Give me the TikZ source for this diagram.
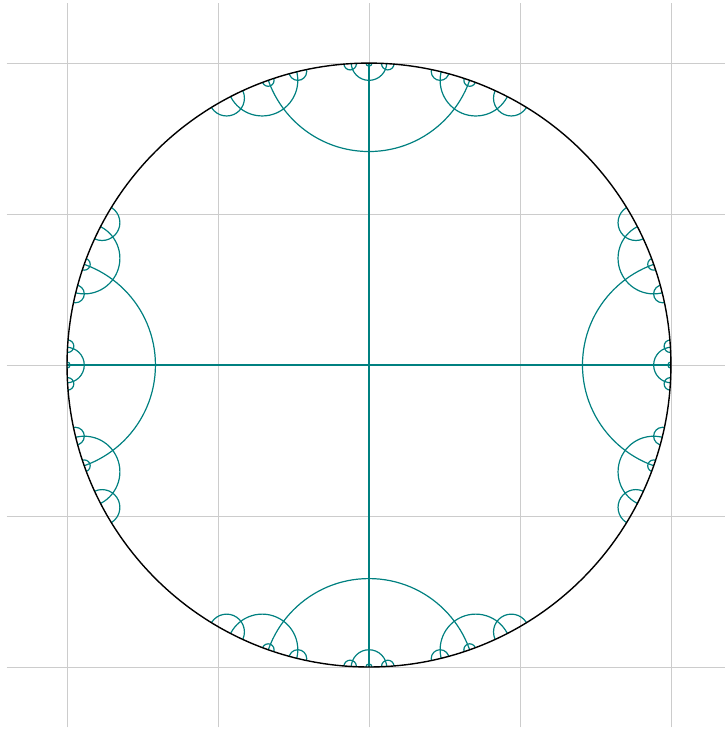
\documentclass[tikz,border=0pt]{standalone}
\usepackage{tikz}

% geodesic between two ideal points given by their angles
\newcommand{\geod}[2]{%
  \pgfmathsetmacro\gd{nrm(#2-#1)/2}%
  \pgfmathsetmacro\gm{#1+\gd}%
  \pgfmathsetmacro\gh{abs(\gd)}%
  \draw[geo line] (\gm:{1/cos(\gh)}) circle[radius={tan(\gh)}];%
}

\begin{document}
\begin{tikzpicture}[
    x=302pt, y=302pt,
    grid line/.style={gray!40, line width=0.8pt},
    geo line/.style={teal, line width=1.2pt},
    rim/.style={black, line width=1.4pt},
    declare function={
        nrm(\x)=\x-360*round(\x/360);
        ofs(\g)=90*mod(\g+1,2);
        fac(\g)=ifthenelse(\g<3,0.171573,5.828427);
        mob(\g,\p)=nrm(ofs(\g)+2*atan(fac(\g)*tan(nrm(\p-ofs(\g))/2)));
    },
]
\useasboundingbox (-1.222,-1.212) rectangle (1.179,1.209);

% === Grid ===
\foreach \t in {-1,-0.5,0,0.5,1} {
    \draw[grid line] (\t,-1.2) -- (\t,1.2);
    \draw[grid line] (-1.2,\t) -- (1.2,\t);
}

% === Geodesics (both diameters and their images, words up to length 3) ===
\coordinate (O) at (0,0);
\begin{scope}
\clip (O) circle[radius=1];
\draw[geo line] (-1,0) -- (1,0);
\draw[geo line] (0,-1) -- (0,1);
% 1 = A, 2 = B, 3 = A^-1, 4 = B^-1
\foreach \ea/\eb/\fix in {0/180/1, 90/-90/0} {
  \foreach \i in {1,...,4} {
    \ifodd\numexpr\i+\fix\relax
      \pgfmathsetmacro\pa{mob(\i,\ea)}
      \pgfmathsetmacro\pb{mob(\i,\eb)}
      \geod{\pa}{\pb}
      \foreach \j in {1,...,4} {
        \ifnum\numexpr(\j-\i)*(\j-\i)\relax=4 \else
          \pgfmathsetmacro\qa{mob(\j,\pa)}
          \pgfmathsetmacro\qb{mob(\j,\pb)}
          \geod{\qa}{\qb}
          \foreach \k in {1,...,4} {
            \ifnum\numexpr(\k-\j)*(\k-\j)\relax=4 \else
              \pgfmathsetmacro\ra{mob(\k,\qa)}
              \pgfmathsetmacro\rb{mob(\k,\qb)}
              \geod{\ra}{\rb}
            \fi
          }
        \fi
      }
    \fi
  }
}
\end{scope}

% === Boundary circle ===
\draw[rim] (O) circle[radius=1];

\end{tikzpicture}
\end{document}
